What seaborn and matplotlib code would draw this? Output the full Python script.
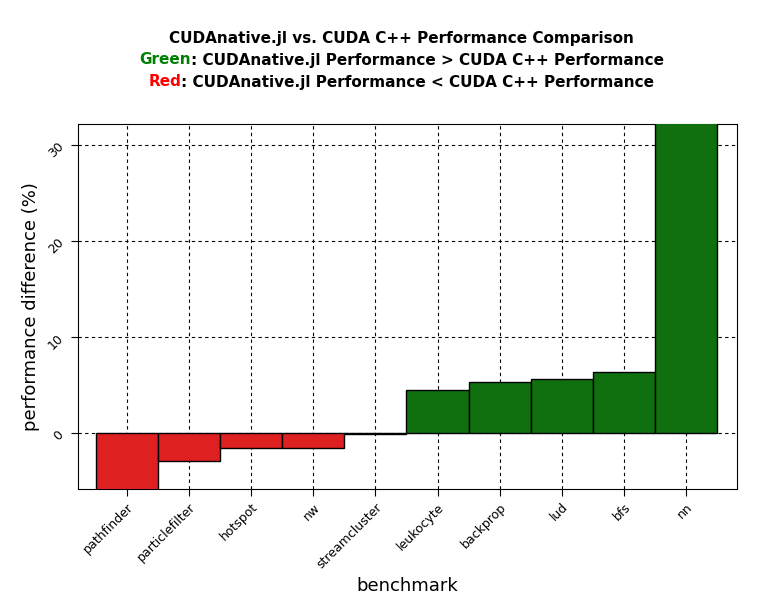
import matplotlib
matplotlib.use("Agg")
import matplotlib.pyplot as plt
import seaborn as sns
import pandas as pd

benchmarks = ["pathfinder", "particlefilter", "hotspot", "nw", "streamcluster",
              "leukocyte", "backprop", "lud", "bfs", "nn"]
diffs = [-7.0, -2.9, -1.5, -1.5, -0.1, 4.5, 5.3, 5.6, 6.4, 33.0]
yticks = [0, 10, 20, 30]

df = pd.DataFrame({"benchmark": benchmarks, "diff": diffs})
colors = ["#008000" if v > 0 else "#ff0000" for v in diffs]

fig = plt.figure(figsize=(7.83, 6.05), dpi=100)
ax = fig.add_axes([0.0996, 0.192, 0.8414, 0.603])
sns.barplot(data=df, x="benchmark", y="diff", hue="benchmark", palette=colors,
            width=1.0, edgecolor="black", linewidth=1, legend=False, ax=ax, zorder=3)
ax.set_xlim(-0.79, 9.82)
ax.set_ylim(-5.8, 32.2)
ax.set_yticks(yticks)
ax.set_yticklabels([str(t) for t in yticks], rotation=45, fontsize=9)
ax.set_xticks(range(len(benchmarks)))
ax.set_xticklabels(benchmarks, rotation=45, ha="right", rotation_mode="anchor", fontsize=9)
ax.grid(True, linestyle=(0, (3, 3)), color="black", linewidth=0.8, zorder=0)
ax.set_axisbelow(True)
ax.set_xlabel("benchmark", fontsize=13)
ax.set_ylabel("performance difference (%)", fontsize=13)
for s in ax.spines.values():
    s.set_color("black")
ax.tick_params(direction="out", length=5, colors="black")

renderer = fig.canvas.get_renderer()
def colored_line(parts, y):
    texts = []
    for s, c in parts:
        texts.append(fig.text(0, y, s, color=c, fontsize=11, fontweight="bold", ha="left", va="center"))
    widths = [t.get_window_extent(renderer).width for t in texts]
    total = sum(widths)
    x = (fig.bbox.width * 0.5) - total / 2 + 10
    for t, w in zip(texts, widths):
        t.set_x(x / fig.bbox.width)
        x += w

colored_line([("CUDAnative.jl vs. CUDA C++ Performance Comparison", "black")], 1 - 38 / 605)
colored_line([("Green", "#008000"), (": CUDAnative.jl Performance > CUDA C++ Performance", "black")], 1 - 60 / 605)
colored_line([("Red", "#ff0000"), (": CUDAnative.jl Performance < CUDA C++ Performance", "black")], 1 - 82 / 605)

fig.savefig("out.png", dpi=100)
